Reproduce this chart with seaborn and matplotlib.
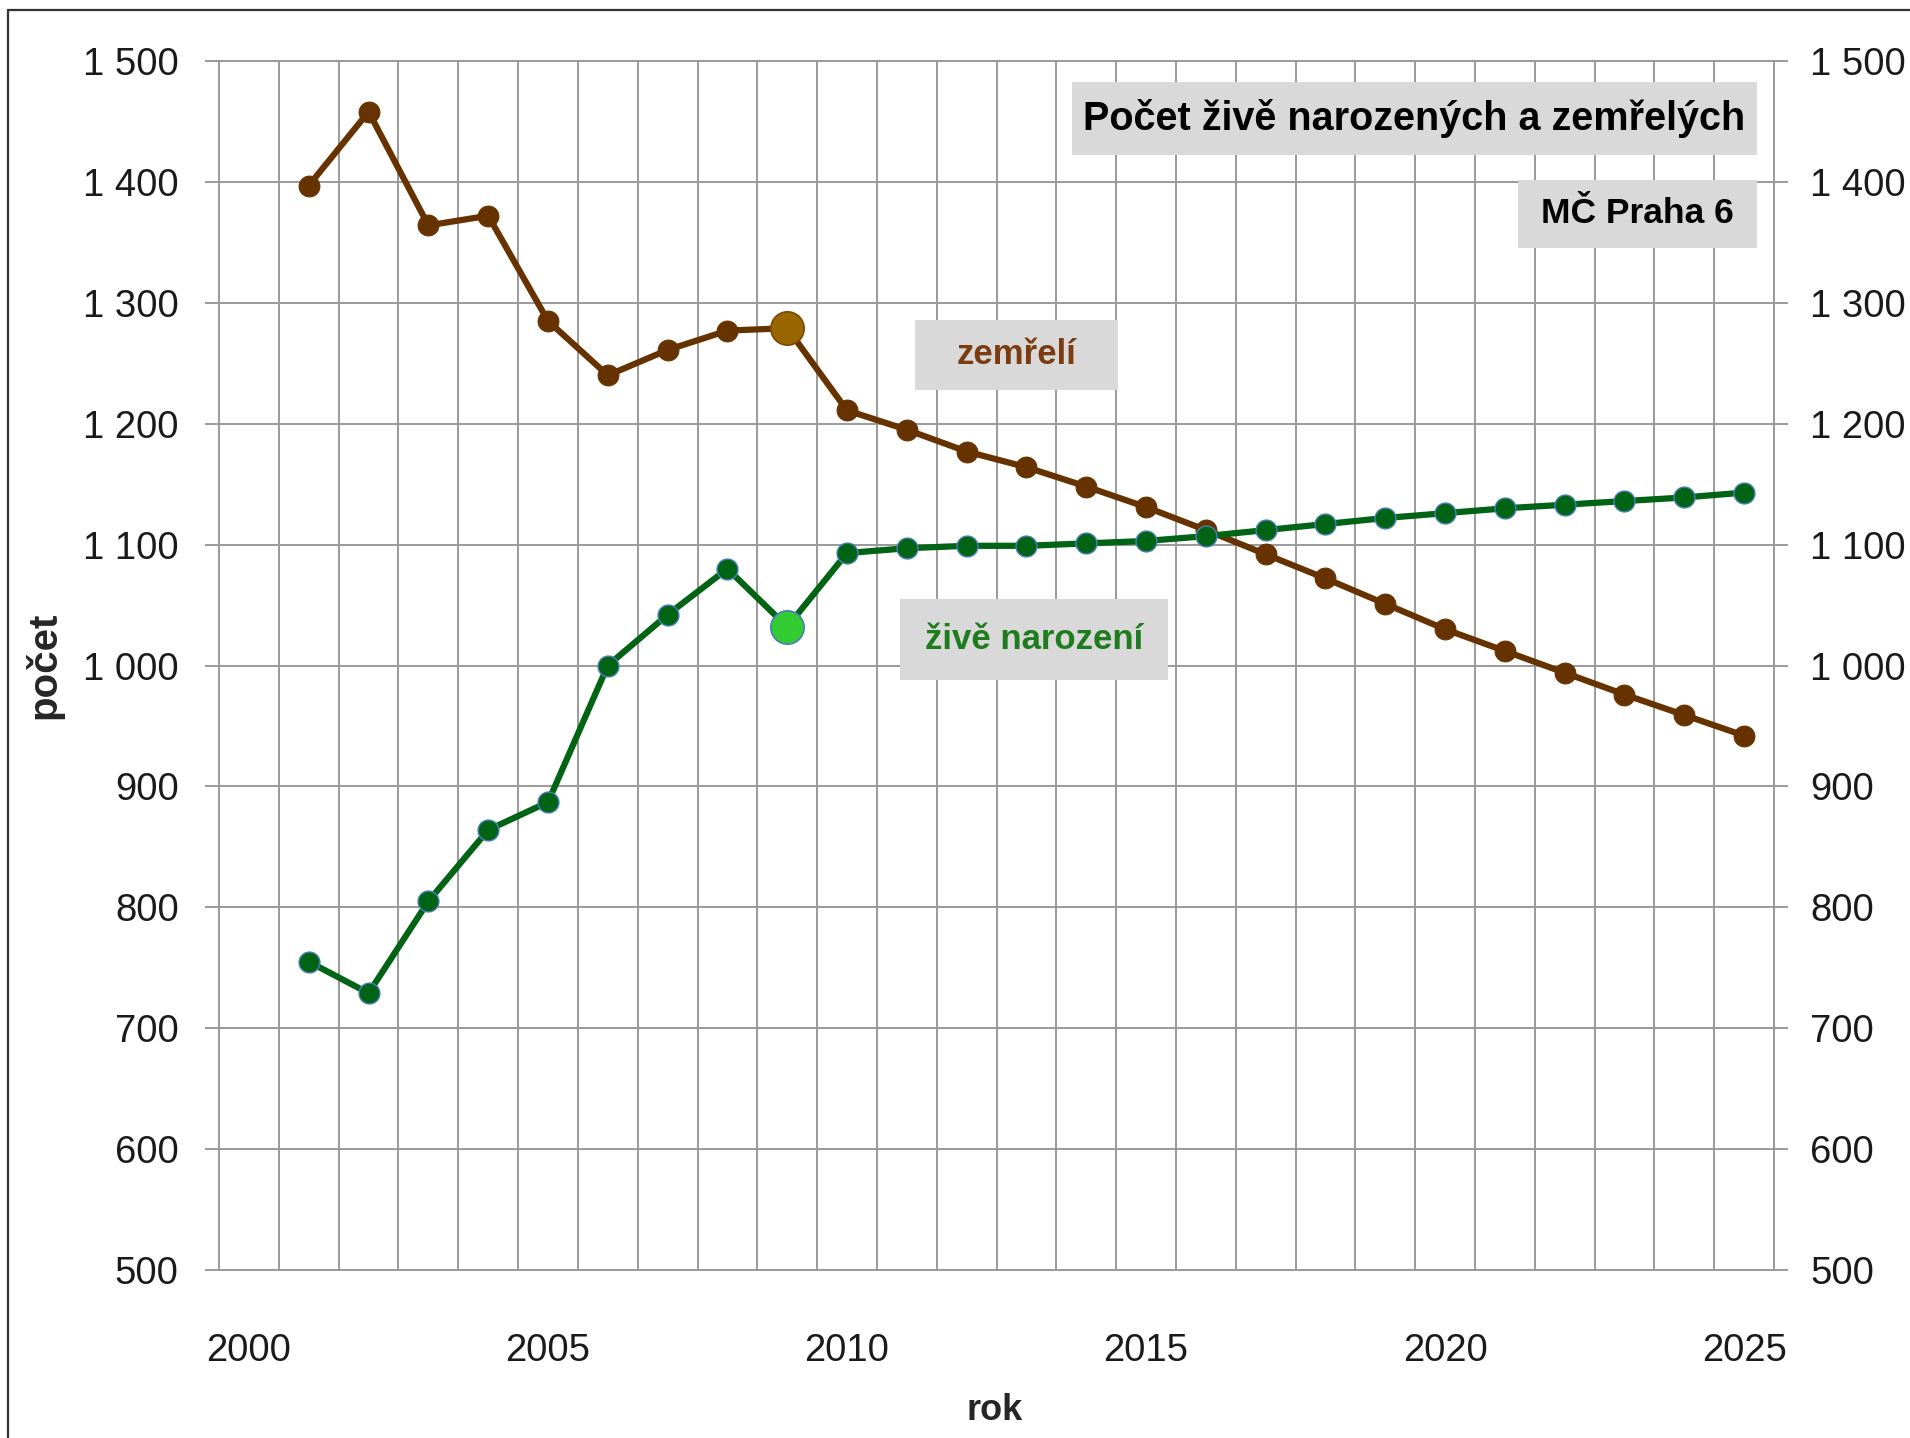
import numpy as np
import pandas as pd
import matplotlib.pyplot as plt
import seaborn as sns
from matplotlib.patches import Rectangle
from matplotlib.lines import Line2D
from matplotlib.ticker import FuncFormatter

roky = list(range(2001, 2026))
zemreli = [1397, 1458, 1364, 1372, 1285, 1240, 1261, 1277, 1279, 1211, 1195, 1177, 1164,
           1148, 1131, 1112, 1092, 1072, 1051, 1030, 1012, 994, 976, 959, 942]
narozeni = [755, 729, 805, 864, 887, 1000, 1042, 1080, 1032, 1093, 1097, 1099, 1099,
            1101, 1103, 1107, 1112, 1117, 1122, 1126, 1130, 1133, 1136, 1139, 1143]
zvyrazneny_rok = 2009
popisky_let = [2000, 2005, 2010, 2015, 2020, 2025]
y_ticks = list(range(500, 1501, 100))

sns.set_style('white')
plt.rcParams['font.family'] = ['Liberation Sans', 'DejaVu Sans']

df = pd.DataFrame({'rok': roky * 2,
                   'pocet': zemreli + narozeni,
                   'serie': ['zemřelí'] * len(roky) + ['živě narození'] * len(roky)})

GRID = '#9a9a9a'
HNEDA = '#663300'
ZELENA = '#006414'

fig = plt.figure(figsize=(19.1, 14.38), dpi=100)
ax = fig.add_axes([0.1147, 0.1168, 0.8141, 0.8408])

# series
sns.lineplot(data=df[df['serie'] == 'zemřelí'], x='rok', y='pocet', color=HNEDA,
             marker='o', markersize=15, markeredgecolor=HNEDA, linewidth=4.5, ax=ax)
sns.lineplot(data=df[df['serie'] == 'živě narození'], x='rok', y='pocet', color=ZELENA,
             marker='o', markersize=15, markeredgecolor='#4a7ebb', markeredgewidth=1,
             linewidth=4.5, ax=ax)

# highlighted year
i = roky.index(zvyrazneny_rok)
ax.plot([zvyrazneny_rok], [zemreli[i]], 'o', markersize=24, color='#996600',
        markeredgecolor='#7a4a00', markeredgewidth=1.2, zorder=4)
ax.plot([zvyrazneny_rok], [narozeni[i]], 'o', markersize=24, color='#33cc33',
        markeredgecolor='#4a7ebb', markeredgewidth=1.2, zorder=4)

ax.set_xlim(1999.5, 2025.5)
ax.set_ylim(500, 1500)
ax.set_xlabel('')
ax.set_ylabel('')

fmt = FuncFormatter(lambda v, p: f'{int(v):,}'.replace(',', ' '))

# x: gridlines between categories, labels in the middle
ax.set_xticks(np.arange(1999.5, 2026, 1))
ax.set_xticklabels([])
ax.set_xticks(popisky_let, minor=True)
ax.set_xticklabels([str(r) for r in popisky_let], minor=True)
ax.tick_params(axis='x', which='major', length=12, width=1.4, color=GRID, direction='out')
ax.tick_params(axis='x', which='minor', length=0, labelsize=27.5, pad=45, labelcolor='#1a1a1a')

ax.set_yticks(y_ticks)
ax.yaxis.set_major_formatter(fmt)
ax.tick_params(axis='y', length=10, width=1.4, color=GRID, direction='out', labelsize=27.5,
               pad=19, labelcolor='#1a1a1a')

ax.grid(True, which='major', color=GRID, linewidth=1.4)
ax.set_axisbelow(True)
for s in ax.spines.values():
    s.set_color(GRID)
    s.set_linewidth(1.4)

ax2 = ax.twinx()
ax2.set_ylim(500, 1500)
ax2.set_yticks(y_ticks)
ax2.yaxis.set_major_formatter(fmt)
ax2.tick_params(axis='y', length=10, width=1.4, color=GRID, direction='out', labelsize=27.5,
                pad=16, labelcolor='#1a1a1a')
for s in ax2.spines.values():
    s.set_visible(False)

# label boxes
boxy = [
    ((0.5486, 0.9222), 0.4405, 0.0604, 'Počet živě narozených a zemřelých', 'black', 28.5),
    ((0.8354, 0.8453), 0.1537, 0.0563, 'MČ Praha 6', 'black', 25.5),
    ((0.4476, 0.7279), 0.1305, 0.0579, 'zemřelí', '#7a3c10', 25),
    ((0.4379, 0.4880), 0.1724, 0.0670, 'živě narození', '#1e7b1e', 25),
]
for (x0, y0), w, h, txt, col, fs in boxy:
    ax.add_patch(Rectangle((x0, y0), w, h, transform=ax.transAxes, facecolor='#d9d9d9',
                           edgecolor='none', zorder=3))
    ax.text(x0 + w / 2, y0 + h / 2, txt, transform=ax.transAxes, ha='center', va='center',
            fontsize=fs, fontweight='bold', color=col, zorder=5)

# axis titles
fig.text(44 / 1910, 1 - 665 / 1438, 'počet', rotation=90, ha='center', va='center',
         fontsize=29, fontweight='bold')
fig.text(995 / 1910, 1 - 1410 / 1438, 'rok', ha='center', va='center',
         fontsize=26, fontweight='bold')

# outer frame (left and top only visible)
fig.add_artist(Line2D([8 / 1910, 8 / 1910], [0, 1 - 10 / 1438], color='#333333', linewidth=1.6))
fig.add_artist(Line2D([8 / 1910, 1], [1 - 10 / 1438, 1 - 10 / 1438], color='#333333', linewidth=1.6))

fig.savefig('out.png', dpi=100)
